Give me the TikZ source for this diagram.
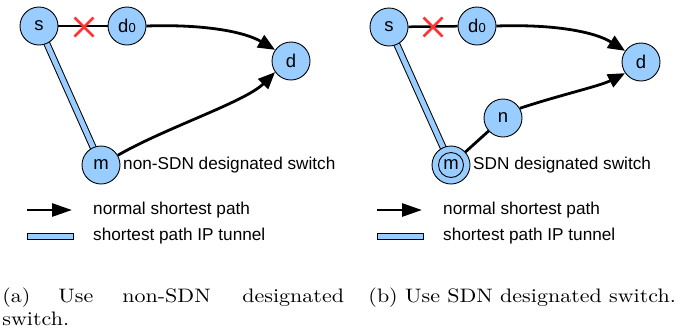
\documentclass[tikz,border=0pt]{standalone}
\usepackage{fontspec}
\newfontfamily\arial{Liberation Sans}
\usetikzlibrary{arrows.meta,backgrounds}
\definecolor{nodeblue}{HTML}{99CCFF}
\definecolor{xred}{HTML}{FF3333}
\begin{document}
\begin{tikzpicture}[x=1pt,y=-1pt,
  vtx/.style={circle,draw=black,line width=0.9pt,fill=nodeblue,minimum size=38pt,inner sep=0pt,font=\arial\fontsize{18.5}{18.5}\selectfont},
  sp/.style={line width=2.8pt,-{Triangle[length=17pt,width=14pt]}},
  splegend/.style={line width=2.8pt,-{Triangle[length=20pt,width=13pt]}},
  plainpath/.style={line width=2.8pt},
  tun/.style={line width=1pt,draw=black,double=nodeblue,double distance=5pt},
  lbl/.style={font=\arial\fontsize{17.2}{17}\selectfont,anchor=west,inner sep=0pt},
  captext/.style={font=\fontsize{10}{12}\selectfont,anchor=base west,inner sep=0pt,xscale=2.2,yscale=1.95},
  cross/.style={draw=xred,line width=2.5pt},
  tunbox/.style={draw=black,line width=0.9pt,fill=nodeblue,minimum width=46pt,minimum height=6pt,inner sep=0pt}]
\useasboundingbox (0,0) rectangle (684,333);

% ---------- panel (a)
\node[vtx] (sa) at (39,26) {s};
\node[vtx] (d0a) at (127,26) {d{\fontsize{13}{13}\selectfont 0}};
\node[vtx] (da) at (291,61) {d};
\node[vtx] (ma) at (101,165) {m};
\begin{scope}[on background layer]
  \draw[tun] (sa.center) -- (ma.center);
\end{scope}
\draw[line width=2.5pt] (sa) -- (d0a);
\draw[cross] (74.5,17.5) -- (93.5,36.5) (74.5,36.5) -- (93.5,17.5);
\draw[sp] (d0a.east) .. controls (205,24) and (245,32) .. (da.145);
\draw[sp] (ma.30) .. controls (165,128) and (245,102) .. (da.215);
\node[lbl] (la) at (123,165) {non-SDN designated switch};

% ---------- panel (b)
\node[vtx] (sb) at (389,27) {s};
\node[vtx] (d0b) at (477,26) {d{\fontsize{13}{13}\selectfont 0}};
\node[vtx] (db) at (641,62) {d};
\node[vtx] (nb) at (503,118) {n};
\node[vtx] (mb) at (451,165) {m};
\draw[line width=0.9pt] (mb.center) circle (12.5pt);
\begin{scope}[on background layer]
  \draw[tun] (sb.center) -- (mb.center);
\end{scope}
\draw[line width=2.5pt] (sb) -- (d0b);
\draw[cross] (423.5,17.5) -- (442.5,36.5) (423.5,36.5) -- (442.5,17.5);
\draw[sp] (d0b.east) .. controls (555,24) and (595,32) .. (db.145);
\draw[plainpath] (mb) -- (nb);
\draw[sp] (nb.30) .. controls (560,95) and (600,86) .. (db.215);
\node[lbl] (lb) at (473,165) {SDN designated switch};

% ---------- legends
\coordinate (la1) at (27,210);
\coordinate (la2) at (72,210);
\draw[splegend] (la1) -- (la2);
\node[lbl] (lt1) at (93,210) {normal shortest path};
\node[tunbox] (tba) at (50,236) {};
\node[lbl] (lt2) at (93,236) {shortest path IP tunnel};

\coordinate (lb1) at (377,210);
\coordinate (lb2) at (422,210);
\draw[splegend] (lb1) -- (lb2);
\node[lbl] (lt3) at (443,210) {normal shortest path};
\node[tunbox] (tbb) at (400,236) {};
\node[lbl] (lt4) at (443,236) {shortest path IP tunnel};

% ---------- captions
\node[captext] (ca1) at (2,302.5) {(a)};
\node[captext] (ca2) at (58,302.5) {Use};
\node[captext] (ca3) at (122,302.5) {non-SDN};
\node[captext] (ca4) at (242,302.5) {designated};
\node[captext] (ca5) at (2,325) {switch.};
\node[captext] (cb) at (368,302.5) {(b) Use SDN designated switch.};
\end{tikzpicture}
\end{document}
